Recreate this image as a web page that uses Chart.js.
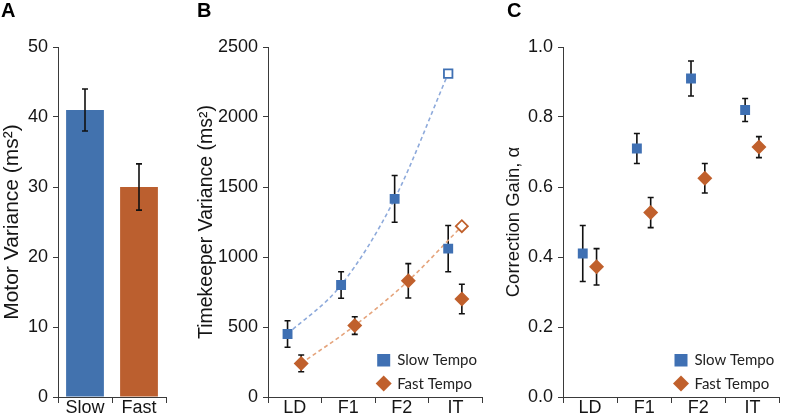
<!DOCTYPE html>
<html>
<head>
<meta charset="utf-8">
<script src="https://cdn.jsdelivr.net/npm/chart.js@4.4.0/dist/chart.umd.min.js"></script>
<style>
  body { margin: 0; background: #fff; }
  #wrap { position: relative; width: 787px; height: 417px; overflow: hidden; }
  .panel { position: absolute; top: 0; height: 417px; }
  .tag { position: absolute; top: 0; font: bold 20px "Liberation Sans", Arial, sans-serif; line-height: 20px; color: #000; }
</style>
</head>
<body>
<div id="wrap">
  <div class="panel" style="left:0;width:185px"><canvas id="chartA"></canvas></div>
  <div class="panel" style="left:195px;width:295px"><canvas id="chartB"></canvas></div>
  <div class="panel" style="left:500px;width:287px"><canvas id="chartC"></canvas></div>
  <div class="tag" style="left:1px">A</div>
  <div class="tag" style="left:197px">B</div>
  <div class="tag" style="left:507px">C</div>
</div>
<script>
// panel A
const tempoLabels = ['Slow', 'Fast'];
const motorVar = [41, 30];
const motorVarErr = [3, 3.3];

// panels B and C share the conditions
const conditions = ['LD', 'F1', 'F2', 'IT'];

const slowTK = [450, 800, 1415, 1060];
const slowTKErr = [95, 95, 167, 165];
const fastTK = [240, 510, 830, 700];
const fastTKErr = [60, 63, 123, 105];
// dashed fits, last point is the predicted IT value (open marker)
const slowTKFit = [450, 800, 1415, 2310];
const fastTKFit = [240, 510, 830, 1220];

const slowCG = [0.41, 0.71, 0.91, 0.82];
const slowCGErr = [0.08, 0.043, 0.05, 0.033];
const fastCG = [0.372, 0.527, 0.625, 0.714];
const fastCGErr = [0.052, 0.043, 0.042, 0.03];

const BLUE = '#3f70b3';
const ORANGE = '#c0602c';
const BAR_BLUE = '#4272ae';
const BAR_ORANGE = '#bb5f2f';
const AXIS = '#3a3a3a';
const TXT = '#151515';
const FONT = '"Liberation Sans", Arial, sans-serif';

const slowOff = -0.135, fastOff = 0.12;
const toPts = (vals, off) => vals.map((v, i) => ({ x: i + 0.5 + off, y: v }));

// error bars: drawn under the markers, or on top of bars
function drawErrors(chart) {
  const ctx = chart.ctx;
  chart.data.datasets.forEach((ds, i) => {
    if (!ds.errors) return;
    const meta = chart.getDatasetMeta(i);
    const yScale = chart.scales[meta.yAxisID];
    meta.data.forEach((el, j) => {
      const d = ds.data[j];
      const v = typeof d === 'object' ? d.y : d;
      const e = ds.errors[j];
      const x = el.x;
      const yTop = yScale.getPixelForValue(v + e);
      const yBot = yScale.getPixelForValue(v - e);
      ctx.save();
      ctx.strokeStyle = '#111';
      ctx.lineWidth = 1.6;
      ctx.beginPath();
      ctx.moveTo(x, yTop); ctx.lineTo(x, yBot);
      ctx.moveTo(x - 3, yTop); ctx.lineTo(x + 3, yTop);
      ctx.moveTo(x - 3, yBot); ctx.lineTo(x + 3, yBot);
      ctx.stroke();
      ctx.restore();
    });
  });
}
const errorBars = {
  id: 'errorBars',
  beforeDatasetsDraw(chart, args, opts) { if (!opts.onTop) drawErrors(chart); },
  afterDatasetsDraw(chart, args, opts) { if (opts.onTop) drawErrors(chart); }
};

// small legend in the lower right of the plot area
const cornerLegend = {
  id: 'cornerLegend',
  afterDraw(chart, args, opts) {
    if (!opts.show) return;
    const ctx = chart.ctx;
    const area = chart.chartArea;
    const x = area.right - 98.5;
    ctx.save();
    ctx.fillStyle = BLUE;
    ctx.fillRect(x - 6.5, area.bottom - 43, 13, 12.5);
    ctx.fillStyle = ORANGE;
    ctx.beginPath();
    const dy = area.bottom - 13.5;
    ctx.moveTo(x - 8, dy); ctx.lineTo(x, dy - 8); ctx.lineTo(x + 8, dy); ctx.lineTo(x, dy + 8);
    ctx.closePath(); ctx.fill();
    ctx.fillStyle = '#222';
    ctx.font = '15px Lato, "Open Sans", sans-serif';
    ctx.textBaseline = 'middle';
    ctx.fillText('Slow Tempo', x + 13.5, area.bottom - 37);
    ctx.fillText('Fast Tempo', x + 13.5, area.bottom - 13);
    ctx.restore();
  }
};
Chart.register(errorBars, cornerLegend);

function yAxis(min, max, step, title, titleSize, width, titlePad, fmt) {
  return {
    min: min, max: max,
    afterFit: s => { s.width = width; },
    border: { color: AXIS, width: 1 },
    grid: { drawOnChartArea: false, color: AXIS, tickLength: 5, tickWidth: 1 },
    ticks: { stepSize: step, color: TXT, padding: 5, font: { family: FONT, size: 18 },
             callback: fmt || (v => v) },
    title: { display: true, text: title, color: TXT, padding: { top: titlePad, bottom: 0 },
             font: { family: FONT, size: titleSize } }
  };
}

function condAxis() {
  return {
    type: 'linear', min: 0, max: 4,
    afterFit: s => { s.height = 20; },
    afterBuildTicks: s => {
      s.ticks = [0, 0.5, 1, 1.5, 2, 2.5, 3, 3.5, 4].map(v => ({ value: v }));
    },
    border: { color: AXIS, width: 1 },
    grid: { drawOnChartArea: false, tickLength: 6,
            tickColor: c => (c.tick && Number.isInteger(c.tick.value)) ? AXIS : 'rgba(0,0,0,0)' },
    ticks: { autoSkip: false, maxRotation: 0, color: TXT, padding: -4,
             font: { family: FONT, size: 18, lineHeight: 1 },
             callback: v => Number.isInteger(v) ? '' : conditions[Math.floor(v)] }
  };
}

const base = {
  responsive: true,
  maintainAspectRatio: false,
  animation: false,
  events: []
};

new Chart(document.getElementById('chartA'), {
  type: 'bar',
  data: {
    labels: tempoLabels,
    datasets: [{
      data: motorVar,
      errors: motorVarErr,
      backgroundColor: [BAR_BLUE, BAR_ORANGE],
      barPercentage: 0.7,
      categoryPercentage: 1.0
    }]
  },
  options: Object.assign({}, base, {
    layout: { padding: { top: 47, right: 19, bottom: 0, left: 0 } },
    plugins: { legend: { display: false }, tooltip: { enabled: false }, errorBars: { onTop: true } },
    scales: {
      x: {
        afterFit: s => { s.height = 20; },
        border: { color: AXIS, width: 1 },
        grid: { drawOnChartArea: false, offset: true, tickLength: 6, color: AXIS },
        ticks: { color: TXT, padding: -4, font: { family: FONT, size: 18, lineHeight: 1 } }
      },
      y: yAxis(0, 50, 10, 'Motor Variance (ms\u00b2)', 21, 58, 0)
    }
  })
});

function markerSets(slow, slowErr, fast, fastErr) {
  return [
    { label: 'Slow Tempo', data: toPts(slow, slowOff), errors: slowErr, showLine: false,
      pointStyle: 'rect', pointRadius: 7, backgroundColor: BLUE, borderColor: BLUE, borderWidth: 0, order: 1 },
    { label: 'Fast Tempo', data: toPts(fast, fastOff), errors: fastErr, showLine: false,
      pointStyle: 'rectRot', pointRadius: 7.5, backgroundColor: ORANGE, borderColor: ORANGE, borderWidth: 0, order: 1 }
  ];
}

new Chart(document.getElementById('chartB'), {
  type: 'scatter',
  data: {
    datasets: markerSets(slowTK, slowTKErr, fastTK, fastTKErr).concat([
      { label: 'Slow fit', data: toPts(slowTKFit, slowOff), showLine: true, borderColor: '#8eaadb',
        borderWidth: 1.6, borderDash: [4, 3], cubicInterpolationMode: 'monotone', pointStyle: 'rect',
        pointRadius: c => c.dataIndex === 3 ? 6 : 0, pointBackgroundColor: '#fff',
        pointBorderColor: BLUE, pointBorderWidth: 1.8, order: 2 },
      { label: 'Fast fit', data: toPts(fastTKFit, fastOff), showLine: true, borderColor: '#e5a47c',
        borderWidth: 1.6, borderDash: [4, 3], cubicInterpolationMode: 'monotone', pointStyle: 'rectRot',
        pointRadius: c => c.dataIndex === 3 ? 6 : 0, pointBackgroundColor: '#fff',
        pointBorderColor: ORANGE, pointBorderWidth: 1.8, order: 2 }
    ])
  },
  options: Object.assign({}, base, {
    layout: { padding: { top: 47, right: 2, bottom: 0, left: 0 } },
    plugins: { legend: { display: false }, tooltip: { enabled: false },
               errorBars: { onTop: false }, cornerLegend: { show: true } },
    scales: {
      x: condAxis(),
      y: yAxis(0, 2500, 500, 'Timekeeper Variance (ms\u00b2)', 19.5, 73, 0)
    }
  })
});

new Chart(document.getElementById('chartC'), {
  type: 'scatter',
  data: { datasets: markerSets(slowCG, slowCGErr, fastCG, fastCGErr) },
  options: Object.assign({}, base, {
    layout: { padding: { top: 47, right: 1, bottom: 0, left: 0 } },
    plugins: { legend: { display: false }, tooltip: { enabled: false },
               errorBars: { onTop: false }, cornerLegend: { show: true } },
    scales: {
      x: condAxis(),
      y: yAxis(0, 1, 0.2, 'Correction Gain, \u03b1', 18.5, 63, 3, v => v.toFixed(1))
    }
  })
});
</script>
</body>
</html>
